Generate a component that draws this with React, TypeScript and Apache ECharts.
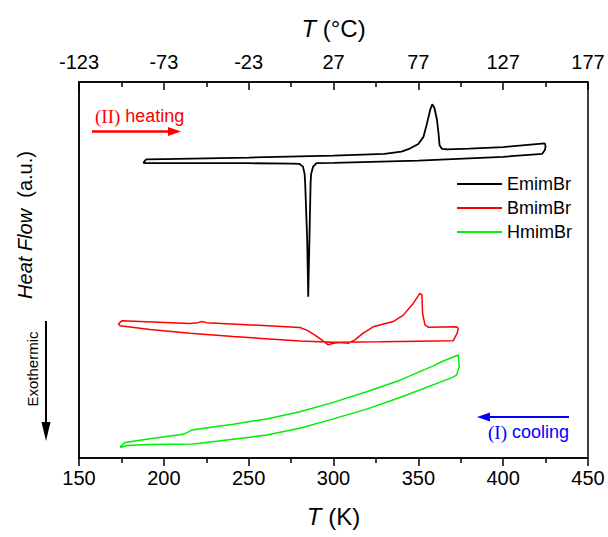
import React, { useEffect, useRef } from "react";
import * as echarts from "echarts";

// Temperature axis (K); the top axis shows the same scale in °C (K - 273)
const xTicksK = [150, 200, 250, 300, 350, 400, 450];
const seriesNames = ["EmimBr", "BmimBr", "HmimBr"];
const seriesColors = ["#000000", "#ff0000", "#00ee00"];

// [T (K), heat flow (a.u.)]
const emimBrHeating: [number, number][] = [
  [187.9, 78.5], [189.5, 79.4], [200, 79.5], [250, 79.9], [300, 80.4], [330, 80.9],
  [340, 81.5], [345, 82.3], [350, 83.5], [353, 85.4], [355, 88.8], [357, 92.6],
  [358.2, 94.1], [359.5, 93.1], [361, 89.9], [362, 85.9], [362.5, 83.2], [364, 82.2],
  [367, 82.1], [380, 82.3], [400, 82.7], [424.5, 83.7], [425, 83.0],
];
const emimBrCooling: [number, number][] = [
  [424.6, 81.9], [423, 80.9], [400, 80.1], [350, 79.1], [300, 78.5], [290, 78.4],
  [288, 77.5], [286.8, 75.5], [286.5, 73.1], [285.8, 58.0], [285.1, 42.9], [284.5, 58.0],
  [283.3, 73.1], [283.0, 75.5], [282, 77.5], [280, 78.2], [275, 78.3], [250, 78.4],
  [200, 78.4], [189, 78.4], [187.9, 78.5],
];
const bmimBrHeating: [number, number][] = [
  [173.2, 35.6], [175.2, 36.5], [215.4, 35.8], [220.1, 36.0], [222.3, 36.3], [225.2, 36.0],
  [280.2, 34.7], [284.2, 34.0], [289.1, 32.7], [293.0, 31.4], [296.9, 30.1], [299.9, 30.5],
  [303.8, 30.7], [308.7, 30.5], [312.6, 31.4], [317.5, 33.2], [323.4, 34.9], [335.2, 36.3],
  [341.1, 38.0], [347.0, 41.1], [350.9, 43.8], [352.1, 43.4], [352.5, 38.5], [353.9, 35.4],
  [355.8, 34.8], [372.6, 34.9], [373.5, 34.5],
];
const bmimBrCooling: [number, number][] = [
  [372.9, 33.2], [370.6, 31.2], [339.2, 31.0], [327.4, 30.9], [299.9, 30.8], [280.2, 31.1],
  [240.9, 32.3], [215.4, 33.2], [191.8, 34.2], [174.2, 35.2], [173.2, 35.6],
];
const hmimBrHeating: [number, number][] = [
  [174.2, 3.0], [177.1, 4.1], [191.8, 5.1], [211.5, 6.3], [214.8, 7.0], [216.4, 7.4],
  [218.4, 7.6], [240.9, 9.0], [260.6, 10.4], [280.2, 12.3], [299.9, 14.8], [319.5, 17.6],
  [339.2, 20.7], [358.8, 24.5], [363.7, 25.6], [373.5, 27.4],
];
const hmimBrCooling: [number, number][] = [
  [374.1, 24.3], [372.6, 22.1], [370.6, 21.5], [339.2, 16.1], [319.5, 13.0], [299.9, 10.4],
  [280.2, 7.9], [260.6, 6.1], [240.9, 5.0], [217.4, 3.7], [191.8, 3.6], [178.1, 3.3],
  [174.2, 2.8],
];

const SANS = "'Liberation Sans', Arial, sans-serif";
const SERIF = "'Liberation Serif', 'Times New Roman', serif";

export default function App() {
  const ref = useRef<HTMLDivElement>(null);
  useEffect(() => {
    if (!ref.current) return;
    const chart = echarts.init(ref.current, undefined, { renderer: "svg" });
    const tickCommon = {
      min: xTicksK[0],
      max: xTicksK[xTicksK.length - 1],
      interval: xTicksK[1] - xTicksK[0],
      splitLine: { show: false },
      axisLine: { show: true, lineStyle: { color: "#000", width: 1.5 } },
    };
    const datasets = [
      [...emimBrHeating, ...emimBrCooling],
      [...bmimBrHeating, ...bmimBrCooling],
      [...hmimBrHeating, ...hmimBrCooling],
    ];
    const nameStyle = {
      fontSize: 24,
      fontFamily: SANS,
      color: "#000",
      rich: { i: { fontStyle: "italic", fontSize: 24, fontFamily: SANS, color: "#000" } },
    };
    chart.setOption({
      animation: false,
      backgroundColor: "#fff",
      grid: { left: 79, right: 20, top: 82, bottom: 79, show: true, borderColor: "#000", borderWidth: 1.5 },
      xAxis: [
        {
          type: "value",
          position: "bottom",
          ...tickCommon,
          axisTick: { show: true, inside: false, length: 8, lineStyle: { color: "#000", width: 1.5 } },
          minorTick: { show: true, splitNumber: 2, length: 5, lineStyle: { color: "#000", width: 1.5 } },
          axisLabel: { fontSize: 20, color: "#000", margin: 10, fontFamily: SANS },
          name: "{i|T} (K)",
          nameLocation: "middle",
          nameGap: 46,
          nameTextStyle: nameStyle,
        },
        {
          type: "value",
          position: "top",
          ...tickCommon,
          axisTick: { show: true, inside: true, length: 8, lineStyle: { color: "#000", width: 1.5 } },
          minorTick: { show: true, splitNumber: 2, length: 5, lineStyle: { color: "#000", width: 1.5 } },
          axisLabel: {
            fontSize: 20,
            color: "#000",
            margin: 10,
            fontFamily: SANS,
            formatter: (v: number) => String(v - 273),
          },
          name: "{i|T} (°C)",
          nameLocation: "middle",
          nameGap: 42,
          nameTextStyle: nameStyle,
        },
      ],
      yAxis: {
        type: "value",
        min: 0,
        max: 100,
        axisLine: { show: true, lineStyle: { color: "#000", width: 1.5 } },
        axisTick: { show: false },
        axisLabel: { show: false },
        splitLine: { show: false },
      },
      legend: {
        data: seriesNames,
        orient: "vertical",
        left: 452,
        top: 170,
        icon: "rect",
        itemWidth: 45,
        itemHeight: 2,
        itemGap: 6,
        textStyle: { fontSize: 18, fontFamily: SANS, color: "#000" },
      },
      series: seriesNames.map((name, i) => ({
        name,
        type: "line",
        xAxisIndex: 0,
        yAxisIndex: 0,
        data: datasets[i],
        showSymbol: false,
        symbol: "none",
        lineStyle: { color: seriesColors[i], width: i === 0 ? 1.8 : 1.5 },
        itemStyle: { color: seriesColors[i] },
      })),
      graphic: [
        {
          type: "text",
          x: 25,
          y: 225,
          rotation: Math.PI / 2,
          style: {
            text: "{i|Heat Flow}  (a.u.)",
            fontSize: 20,
            fontFamily: SANS,
            fill: "#000",
            align: "center",
            verticalAlign: "middle",
            rich: { i: { fontStyle: "italic", fontSize: 20, fontFamily: SANS, fill: "#000" } },
          },
        },
        {
          type: "text",
          x: 32,
          y: 369,
          rotation: Math.PI / 2,
          style: {
            text: "Exothermic",
            fontSize: 15,
            fontFamily: SANS,
            fill: "#000",
            align: "center",
            verticalAlign: "middle",
          },
        },
        { type: "line", shape: { x1: 46, y1: 321, x2: 46, y2: 426 }, style: { stroke: "#000", lineWidth: 2 } },
        { type: "polygon", shape: { points: [[41.5, 422], [50.5, 422], [46, 441]] }, style: { fill: "#000" } },
        {
          type: "text",
          x: 95,
          y: 116,
          style: {
            text: "{s|(II)} heating",
            fontSize: 18,
            fontFamily: SANS,
            fill: "#ff0000",
            verticalAlign: "middle",
            rich: { s: { fontSize: 19, fontFamily: SERIF, fill: "#ff0000" } },
          },
        },
        { type: "line", shape: { x1: 92, y1: 131.5, x2: 170, y2: 131.5 }, style: { stroke: "#ff0000", lineWidth: 2.5 } },
        { type: "polygon", shape: { points: [[168, 127], [181, 131.5], [168, 136]] }, style: { fill: "#ff0000" } },
        {
          type: "text",
          x: 569,
          y: 432,
          style: {
            text: "{s|(I)} cooling",
            fontSize: 18,
            fontFamily: SANS,
            fill: "#0000ff",
            align: "right",
            verticalAlign: "middle",
            rich: { s: { fontSize: 19, fontFamily: SERIF, fill: "#0000ff" } },
          },
        },
        { type: "line", shape: { x1: 488, y1: 417, x2: 569, y2: 417 }, style: { stroke: "#0000ff", lineWidth: 2 } },
        { type: "polygon", shape: { points: [[490, 412.5], [477, 417], [490, 421.5]] }, style: { fill: "#0000ff" } },
      ],
    });
    return () => chart.dispose();
  }, []);
  return <div ref={ref} style={{ width: 608, height: 537, position: "absolute", left: 0, top: 0 }} />;
}
